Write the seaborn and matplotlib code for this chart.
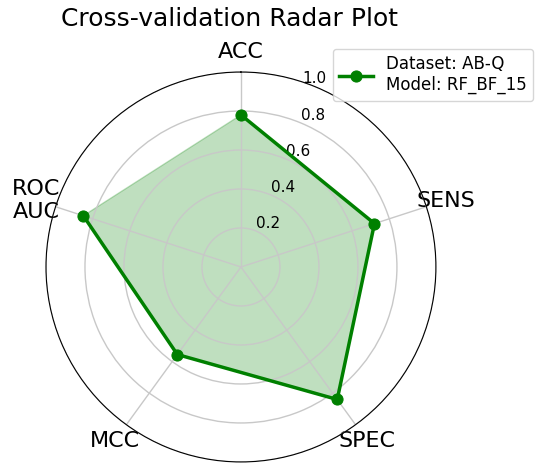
#Radar plot of cross-validation metrics
import numpy as np
import pandas as pd
import matplotlib
matplotlib.use("Agg")
import matplotlib.pyplot as plt
import matplotlib.transforms as mtransforms
import seaborn as sns

metrics = ["ACC", "SENS", "SPEC", "MCC", "ROC\nAUC"]
scores = [0.78, 0.72, 0.84, 0.555, 0.85]
series_label = "Dataset: AB-Q\nModel: RF_BF_15"
r_ticks = [0.2, 0.4, 0.6, 0.8, 1.0]

#angles for each metric, loop closed back to the first one
angles = np.linspace(0, 2 * np.pi, len(metrics), endpoint=False).tolist()
df = pd.DataFrame({"angle": angles + angles[:1], "score": scores + scores[:1]})

fig = plt.figure(figsize=(5.5, 4.73), dpi=100)
ax = fig.add_axes([0.0836, 0.0233, 0.709, 0.8245], polar=True)
ax.set_theta_offset(np.pi / 2)
ax.set_theta_direction(-1)

sns.lineplot(data=df, x="angle", y="score", sort=False, color="green",
             linewidth=2.5, marker="o", markersize=8, markeredgecolor="green",
             label=series_label, ax=ax)
ax.fill(df["angle"], df["score"], color="green", alpha=0.25)

ax.set_ylim(0, 1)
ax.set_yticks(r_ticks)
ax.set_yticklabels([f"{t:.1f}" for t in r_ticks], fontsize=11)
ax.set_xticks(angles)
ax.set_xticklabels(metrics, fontsize=16)
ax.tick_params(axis="x", pad=4)
ax.set_xlabel("")
ax.set_ylabel("")
ax.grid(color="#c8c8c8", linewidth=1)

#outer label sits a bit further left in the original
fig.canvas.draw()
for lbl in ax.get_yticklabels():
    if lbl.get_text() == "1.0":
        shift = mtransforms.ScaledTranslation(-0.13, 0.01, fig.dpi_scale_trans)
        lbl.set_transform(lbl.get_transform() + shift)

ax.legend(loc="upper right", bbox_to_anchor=(0.985, 0.915),
          bbox_transform=fig.transFigure, fontsize=12)
fig.suptitle("Cross-validation Radar Plot", fontsize=18, x=0.418, y=0.985)

plt.savefig("out.png", dpi=100)
